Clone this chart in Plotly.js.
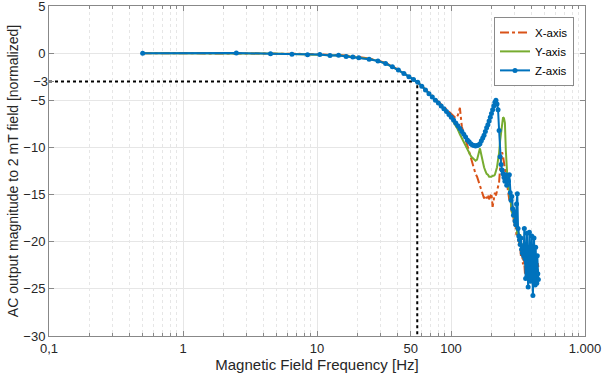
<!DOCTYPE html>
<html>
<head>
<meta charset="utf-8">
<script src="https://cdn.plot.ly/plotly-3.0.1.min.js"></script>
<style>html,body{margin:0;padding:0;background:#fff;}#chart{width:603px;height:381px;}</style>
</head>
<body>
<div id="chart"></div>
<script>
// Frequencies [Hz]
const freq = [0.5, 2.5, 4.5, 6.5, 8.5, 10.5, 12.5, 14.5, 16.5, 18.5, 20.5, 24.5, 28.5, 32.5, 36.5, 40.5, 44.5, 48.5, 52.5, 56.5,
  60.5, 64.5, 68.5, 72.5, 76.5, 80.5, 84.5, 88.5, 92.5, 96.5, 100.5,
  104.5, 108.5, 112.5, 116.5, 120.5, 124.5, 128.5, 132.5, 136.5, 140.5, 144.5, 148.5, 152.5, 156.5, 160.5, 164.5, 168.5, 172.5, 176.5, 180.5,
  184.5, 188.5, 192.5, 196.5, 200.5, 204.5, 208.5, 212.5, 216.5, 220.5, 224.5, 228.5, 232.5, 236.5, 240.5, 244.5, 248.5, 252.5, 256.5, 260.5, 264.5,
  268.5, 272.5, 276.5, 280.5, 284.5, 288.5, 292.5, 296.5, 300.5, 304.5, 308.5, 312.5, 316.5, 320.5, 324.5, 328.5, 332.5, 336.5, 340.5, 344.5,
  348.5, 352.5, 356.5, 360.5, 364.5, 368.5, 372.5, 376.5, 380.5, 384.5, 388.5, 392.5, 396.5, 400.5, 404.5, 408.5, 412.5, 416.5, 420.5, 424.5,
  428.5, 432.5, 436.5, 440.5, 444.5, 448.5];

const xAxisVals = [0, 0, -0.03, -0.06, -0.09, -0.12, -0.16, -0.2, -0.26, -0.33, -0.4, -0.57, -0.78, -1.05, -1.4, -1.75, -2.1, -2.45, -2.78, -3.08,
  -3.45, -3.85, -4.2, -4.55, -4.85, -5.15, -5.45, -5.7, -5.95, -6.15, -6.4,
  -6.6, -6.9, -6.6, -5.8, -7.8, -8.5, -9.4, -9.9, -10.7, -11.2, -11.9, -12.5, -12.8, -13.1, -13.6, -14.2, -14.6, -15.2, -15.4, -15.1,
  -15.4, -15.0, -15.5, -15.2, -14.9, -16.3, -15.3, -14.8, -15.1, -14.6, -14.2, -13.7, -12.2, -11.0, -10.5, -10.9, -11.6, -12.4, -13.1, -13.8, -14.5,
  -14.8, -15.6, -15.2, -16.4, -17.0, -16.6, -17.8, -18.3, -17.7, -18.9, -19.4, -18.8, -19.9, -20.4, -19.7, -21.0, -21.5, -20.6, -21.8, -22.4,
  -21.3, -22.6, -23.4, -22.0, -23.0, -23.8, -22.4, -23.2, -24.0, -22.6, -23.3, -23.9, -22.5, -23.1, -23.7, -22.4, -23.2, -23.8, -22.6, -23.0,
  -23.5, -22.3, -22.9, -23.4, -22.2, -22.7];

const yAxisVals = [0, 0, -0.05, -0.08, -0.12, -0.15, -0.2, -0.25, -0.3, -0.38, -0.45, -0.62, -0.82, -1.1, -1.45, -1.8, -2.15, -2.5, -2.8, -3.1,
  -3.5, -3.9, -4.3, -4.65, -4.98, -5.3, -5.6, -5.9, -6.2, -6.5, -6.9,
  -7.3, -7.7, -8.1, -8.6, -9.0, -9.4, -9.9, -10.3, -10.6, -10.9, -11.1, -11.3, -11.4, -11.3, -10.6, -10.1, -10.8, -11.6, -12.1, -12.5,
  -12.8, -12.9, -13.1, -13.1, -13.1, -13.0, -13.0, -12.9, -12.6, -12.1, -11.3, -10.6, -9.3, -8.2, -7.3, -6.8, -6.9, -7.4, -10.3, -12.8, -13.6,
  -14.2, -14.6, -15.6, -15.9, -16.8, -17.1, -16.5, -17.9, -18.3, -17.6, -18.9, -19.2, -18.5, -19.8, -20.1, -19.2, -20.6, -21.0, -20.2, -21.3,
  -21.8, -20.7, -22.1, -22.6, -21.4, -22.8, -23.3, -21.9, -23.0, -23.6, -22.2, -23.4, -24.0, -22.4, -23.5, -24.3, -22.7, -23.6, -24.2, -22.6,
  -23.4, -24.1, -22.8, -23.5, -23.9, -23.2];

const zAxisVals = [0, 0.02, -0.06, -0.12, -0.18, -0.15, -0.26, -0.22, -0.36, -0.42, -0.48, -0.64, -0.84, -1.1, -1.45, -1.8, -2.15, -2.5, -2.8, -3.1,
  -3.5, -3.9, -4.3, -4.65, -5.0, -5.3, -5.6, -5.9, -6.2, -6.5, -6.8,
  -7.1, -7.4, -7.7, -8.0, -8.3, -8.6, -8.9, -9.2, -9.4, -9.6, -9.75, -9.8, -9.85, -9.8, -9.75, -9.6, -9.3, -9.0, -8.7, -8.3,
  -7.9, -7.6, -7.2, -6.8, -6.4, -6.0, -5.6, -5.2, -5.0, -5.4, -6.0, -8.2, -11.0, -11.8, -12.4, -12.8, -13.2, -13.6, -12.9, -14.0, -13.4,
  -13.6, -12.9, -14.8, -15.6, -15.2, -16.5, -17.2, -16.8, -17.8, -18.2, -16.0, -14.9, -18.6, -19.4, -19.8, -20.3, -19.6, -20.8, -21.2, -20.6,
  -21.5, -18.6, -21.8, -23.9, -22.2, -19.1, -22.5, -24.8, -22.9, -19.0, -21.7, -24.2, -22.3, -19.4, -22.8, -25.7, -23.0, -19.6, -22.4, -24.6,
  -20.6, -23.1, -24.4, -21.5, -23.4, -24.0];

// -3 level cutoff marker lines
const cutoffFreq = 56;
const cutoffLevel = -3;
const axisMinFreq = 0.1;
const axisMinLevel = -30;

// Ticks
const xTickVals = [0.1, 1, 10, 50, 100, 1000];
const xTickText = ['0,1', '1', '10', '50', '100', '1.000'];
const xMinorVals = [0.2,0.3,0.4,0.5,0.6,0.7,0.8,0.9, 2,3,4,5,6,7,8,9, 20,30,40,60,70,80,90, 200,300,400,500,600,700,800,900];
const yTickVals = [-30, -25, -20, -15, -10, -5, 0, 5];
const yExtraTick = [-3];

const fontFam = 'Liberation Sans, Arial, sans-serif';
const txt = '#262626';

const traces = [
  {x: [axisMinFreq, cutoffFreq, cutoffFreq], y: [cutoffLevel, cutoffLevel, axisMinLevel], mode: 'lines',
   line: {color: '#000', width: 2, dash: 'dot'}, showlegend: false, hoverinfo: 'skip'},
  {x: freq, y: xAxisVals, name: 'X-axis', mode: 'lines', line: {color: '#D95319', width: 2, dash: 'dashdot'}},
  {x: freq, y: yAxisVals, name: 'Y-axis', mode: 'lines', line: {color: '#77AC30', width: 2}},
  {x: freq, y: zAxisVals, name: 'Z-axis', mode: 'lines+markers', line: {color: '#0072BD', width: 2},
   marker: {color: '#0072BD', size: 5}}
];

const layout = {
  width: 603, height: 381,
  margin: {l: 49, r: 18, t: 6, b: 45},
  paper_bgcolor: '#fff', plot_bgcolor: '#fff',
  font: {family: fontFam, size: 13, color: txt},
  showlegend: true,
  legend: {x: 0.9795, y: 0.967, xanchor: 'right', yanchor: 'top', bgcolor: '#fff',
    bordercolor: '#8a8a8a', borderwidth: 1, font: {family: fontFam, size: 11.5, color: '#000'},
    itemwidth: 30, tracegroupgap: 0},
  xaxis: {
    type: 'log', range: [-1, 3],
    tickmode: 'array', tickvals: xTickVals, ticktext: xTickText,
    ticks: 'inside', ticklen: 5, tickcolor: '#888',
    showgrid: true, gridcolor: '#e6e6e6', gridwidth: 1,
    minor: {tickmode: 'array', tickvals: xMinorVals, ticks: 'inside', ticklen: 3, tickcolor: '#888',
      showgrid: true, gridcolor: '#e6e6e6', griddash: 'dot', gridwidth: 1},
    showline: true, linecolor: '#888', linewidth: 1, mirror: 'ticks',
    zeroline: false, ticklabeloverflow: 'allow',
    tickfont: {family: fontFam, size: 13, color: txt},
    title: {text: 'Magnetic Field Frequency [Hz]', font: {family: fontFam, size: 15, color: txt}, standoff: 3}
  },
  yaxis: {
    range: [-30, 5],
    tickmode: 'array', tickvals: yTickVals,
    ticks: 'inside', ticklen: 5, tickcolor: '#888',
    showgrid: true, gridcolor: '#e6e6e6', gridwidth: 1,
    showline: true, linecolor: '#888', linewidth: 1, mirror: 'ticks',
    zeroline: false, ticklabeloverflow: 'allow',
    tickfont: {family: fontFam, size: 13, color: txt},
    title: {text: 'AC output magnitude to 2 mT field [normalized]', font: {family: fontFam, size: 14, color: txt}, standoff: 1}
  },
  yaxis2: {
    overlaying: 'y', side: 'left', anchor: 'x', range: [-30, 5],
    tickmode: 'array', tickvals: yExtraTick,
    ticks: 'inside', ticklen: 5, tickcolor: '#888',
    showgrid: false, showline: false, zeroline: false,
    tickfont: {family: fontFam, size: 13, color: txt}
  }
};

// dummy trace to activate yaxis2
traces.push({x: [axisMinFreq], y: [cutoffLevel], yaxis: 'y2', mode: 'markers', marker: {opacity: 0}, showlegend: false, hoverinfo: 'skip'});

Plotly.newPlot('chart', traces, layout, {displayModeBar: false, staticPlot: true});
</script>
</body>
</html>
